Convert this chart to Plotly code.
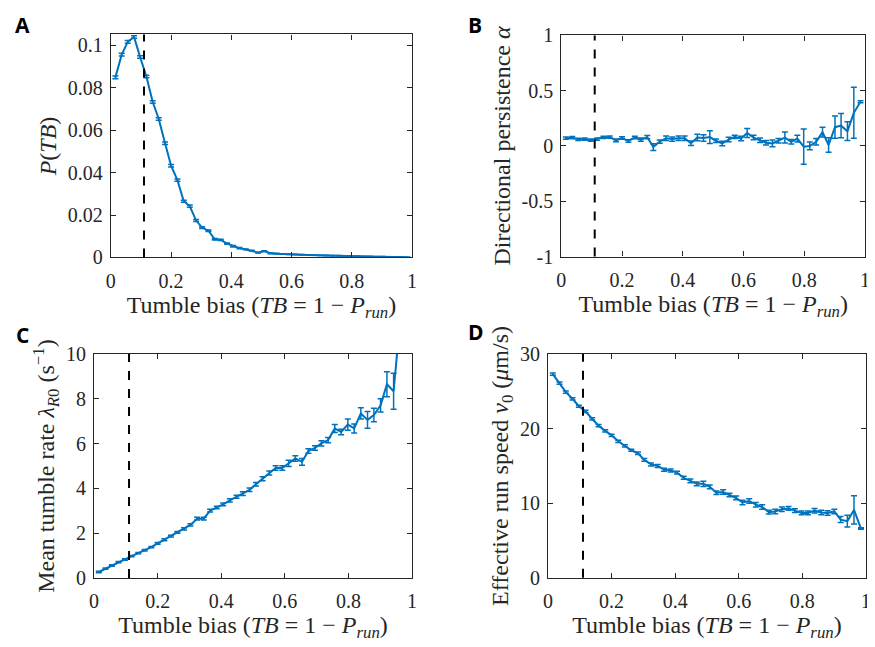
import plotly.graph_objects as go

# ---------------- data ----------------
tb = [0.015, 0.036, 0.056, 0.077, 0.097, 0.118, 0.139, 0.159, 0.180, 0.200,
      0.221, 0.242, 0.262, 0.283, 0.303, 0.324, 0.345, 0.365, 0.386, 0.406,
      0.427, 0.448, 0.468, 0.489, 0.509, 0.530, 0.551, 0.571, 0.592, 0.612,
      0.633, 0.654, 0.674, 0.695, 0.715, 0.736, 0.757, 0.777, 0.798, 0.818,
      0.839, 0.860, 0.880, 0.901, 0.921, 0.942, 0.963, 0.985]

p_tb = [0.0848, 0.0955, 0.1015, 0.1038, 0.0944, 0.0852, 0.0732, 0.0652, 0.0538, 0.0432,
        0.0364, 0.0265, 0.0242, 0.0174, 0.0141, 0.0126, 0.0086, 0.0083, 0.0065, 0.0053,
        0.0044, 0.0038, 0.0032, 0.0023, 0.0030, 0.0020, 0.0018, 0.0016, 0.0015, 0.0014,
        0.0013, 0.0012, 0.0011, 0.0010, 0.0009, 0.0008, 0.0008, 0.0007, 0.0006, 0.0006,
        0.0005, 0.0005, 0.0004, 0.0004, 0.0003, 0.0002, 0.0002, 0.0001]
p_tb_err = [0.0006, 0.0006, 0.0006, 0.0006, 0.0006, 0.0006, 0.0006, 0.0006, 0.0006, 0.0006,
            0.0005, 0.0005, 0.0005, 0.0005, 0.0004, 0.0004, 0.0004, 0.0003, 0.0003, 0.0003,
            0.0003, 0.0002, 0.0002, 0.0002, 0.0002, 0.0002, 0.0002, 0.0001, 0.0001, 0.0001,
            0.0001, 0.0001, 0.0001, 0.0001, 0.0001, 0.0001, 0.0001, 0.0001, 0.0001, 0.0001,
            0.0001, 0.0001, 0.0001, 0.0001, 0.0001, 0.0001, 0.0001, 0.0001]

alpha = [0.070, 0.075, 0.060, 0.062, 0.052, 0.062, 0.078, 0.080, 0.050, 0.072,
         0.045, 0.077, 0.058, 0.080, -0.010, 0.040, 0.070, 0.062, 0.070, 0.070,
         0.025, 0.077, 0.072, 0.080, 0.047, 0.023, 0.058, 0.082, 0.067, 0.117,
         0.076, 0.052, 0.029, 0.023, 0.047, 0.076, 0.038, 0.067, -0.006, 0.000,
         0.038, 0.125, 0.009, 0.170, 0.184, 0.134, 0.300, 0.400]
alpha_err = [0.010, 0.010, 0.010, 0.010, 0.010, 0.010, 0.010, 0.010, 0.012, 0.012,
             0.012, 0.012, 0.015, 0.015, 0.030, 0.015, 0.020, 0.020, 0.020, 0.020,
             0.020, 0.030, 0.030, 0.058, 0.015, 0.020, 0.020, 0.015, 0.020, 0.040,
             0.020, 0.020, 0.020, 0.030, 0.020, 0.050, 0.020, 0.030, 0.160, 0.035,
             0.030, 0.045, 0.065, 0.100, 0.110, 0.085, 0.230, 0.010]

lam = [0.27, 0.42, 0.56, 0.71, 0.83, 0.98, 1.11, 1.24, 1.38, 1.55,
       1.71, 1.87, 2.04, 2.20, 2.37, 2.65, 2.65, 3.01, 3.15, 3.29,
       3.47, 3.63, 3.77, 3.94, 4.19, 4.43, 4.69, 4.91, 4.91, 5.12,
       5.34, 5.19, 5.67, 5.81, 6.01, 6.16, 6.68, 6.52, 6.85, 6.68,
       7.35, 7.06, 7.28, 7.71, 8.65, 8.34, 13.0, 15.0]
lam_err = [0.03, 0.03, 0.03, 0.03, 0.03, 0.03, 0.03, 0.03, 0.03, 0.04,
           0.04, 0.04, 0.04, 0.05, 0.05, 0.06, 0.06, 0.06, 0.06, 0.06,
           0.07, 0.07, 0.08, 0.08, 0.08, 0.09, 0.09, 0.10, 0.10, 0.14,
           0.12, 0.15, 0.10, 0.10, 0.12, 0.12, 0.18, 0.12, 0.25, 0.20,
           0.25, 0.37, 0.30, 0.30, 0.56, 0.80, 1.00, 1.00]

v0 = [27.3, 26.1, 24.9, 24.0, 23.0, 22.3, 21.3, 20.4, 19.7, 19.1,
      18.3, 17.7, 17.1, 16.7, 15.8, 15.2, 15.0, 14.5, 14.4, 14.1,
      13.4, 13.0, 12.6, 12.6, 12.2, 11.4, 11.5, 11.1, 10.7, 10.1,
      10.3, 9.8, 9.5, 8.8, 8.9, 9.2, 9.3, 9.0, 8.7, 8.7,
      9.0, 8.75, 8.7, 8.9, 7.8, 7.6, 9.1, 6.6]
v0_err = [0.15, 0.15, 0.15, 0.15, 0.15, 0.15, 0.15, 0.15, 0.15, 0.15,
          0.15, 0.15, 0.15, 0.18, 0.18, 0.2, 0.2, 0.2, 0.2, 0.2,
          0.2, 0.25, 0.25, 0.35, 0.25, 0.25, 0.3, 0.25, 0.25, 0.3,
          0.3, 0.3, 0.3, 0.25, 0.3, 0.3, 0.25, 0.25, 0.25, 0.25,
          0.3, 0.3, 0.3, 0.3, 0.4, 0.8, 1.9, 0.1]

tb_ref = 0.11  # dashed reference line

x_ticks = [0, 0.2, 0.4, 0.6, 0.8, 1]
x_ticktext = ["0", "0.2", "0.4", "0.6", "0.8", "1"]

# ---------------- styling ----------------
PAGE_OFF = 8                      # browser body margin
W, H = 875 - PAGE_OFF, 647 - PAGE_OFF
BLUE = "#0072BD"
AXC = "#262626"
SERIF = "Liberation Serif"
TICK_SIZE = 20
TITLE_SIZE = 24

XT = "Tumble bias (<i>TB</i> = 1 − <i>P<sub>run</sub></i>)"


def dom_x(a, b):
    return [(a - PAGE_OFF) / W, (b - PAGE_OFF) / W]


def dom_y(top, bottom):
    return [1 - (bottom - PAGE_OFF) / H, 1 - (top - PAGE_OFF) / H]


def axis(domain, anchor, rng, tickvals, ticktext, title, standoff, is_x):
    return dict(
        domain=domain, anchor=anchor, range=rng,
        tickmode="array", tickvals=tickvals, ticktext=ticktext,
        showline=True, linecolor=AXC, linewidth=1.2, mirror="ticks",
        ticks="inside", ticklen=5, tickwidth=1, tickcolor=AXC,
        showgrid=False, zeroline=False,
        ticklabelstandoff=5 if is_x else 3,
        ticklabeloverflow="allow",
        tickfont=dict(family=SERIF, size=TICK_SIZE, color=AXC),
        title=dict(text=title, standoff=standoff,
                   font=dict(family=SERIF, size=TITLE_SIZE, color=AXC)),
    )


fig = go.Figure()

panels = [
    ("x", "y", p_tb, p_tb_err),
    ("x2", "y2", alpha, alpha_err),
    ("x3", "y3", lam, lam_err),
    ("x4", "y4", v0, v0_err),
]
for xa, ya, vals, errs in panels:
    fig.add_trace(go.Scatter(
        x=tb, y=vals, mode="lines", xaxis=xa, yaxis=ya,
        line=dict(color=BLUE, width=2),
        error_y=dict(type="data", array=errs, visible=True,
                     color=BLUE, thickness=1.5, width=3),
        showlegend=False, hoverinfo="x+y",
    ))
    fig.add_shape(type="line", xref=xa, yref=ya + " domain",
                  x0=tb_ref, x1=tb_ref, y0=0, y1=1,
                  line=dict(color="black", width=2, dash="dash"))

fig.update_layout(
    width=W, height=H,
    margin=dict(l=0, r=0, t=0, b=0),
    paper_bgcolor="white", plot_bgcolor="white",
    showlegend=False,
    xaxis=axis(dom_x(107, 411.7), "y", [0, 1], x_ticks, x_ticktext, XT, 2, True),
    yaxis=axis(dom_y(24, 255), "x", [0, 0.105],
               [0, 0.02, 0.04, 0.06, 0.08, 0.1],
               ["0", "0.02", "0.04", "0.06", "0.08", "0.1"],
               "<i>P</i>(<i>TB</i>)", 4, False),
    xaxis2=axis(dom_x(562.7, 870), "y2", [0, 1], x_ticks, x_ticktext, XT, 2, True),
    yaxis2=axis(dom_y(25, 254), "x2", [-1, 1],
                [-1, -0.5, 0, 0.5, 1], ["-1", "-0.5", "0", "0.5", "1"],
                "Directional persistence <i>α</i>", 4, False),
    xaxis3=axis(dom_x(90, 411.7), "y3", [0, 1], x_ticks, x_ticktext, XT, 2, True),
    yaxis3=axis(dom_y(355, 587), "x3", [0, 10],
                [0, 2, 4, 6, 8, 10], ["0", "2", "4", "6", "8", "10"],
                "Mean tumble rate <i>λ<sub>R</sub></i><sub>0</sub> (s<sup>−1</sup>)", 4, False),
    xaxis4=axis(dom_x(549.3, 870.7), "y4", [0, 1], x_ticks, x_ticktext, XT, 2, True),
    yaxis4=axis(dom_y(355, 586.7), "x4", [0, 30],
                [0, 10, 20, 30], ["0", "10", "20", "30"],
                "Effective run speed <i>v</i><sub>0</sub> (<i>μ</i>m/s)", 4, False),
)

# panel letters: (page x of left edge, page y of vertical centre)
for letter, px, py in [("A", 9, 14), ("B", 467, 14), ("C", 10, 335), ("D", 467, 332)]:
    fig.add_annotation(text="<b>%s</b>" % letter, xref="paper", yref="paper",
                       x=(px - PAGE_OFF) / W, y=1 - (py - PAGE_OFF) / H,
                       xanchor="left", yanchor="middle", borderpad=0,
                       showarrow=False,
                       font=dict(family="Open Sans", size=21, color="black"))

fig.write_html("out.html")
